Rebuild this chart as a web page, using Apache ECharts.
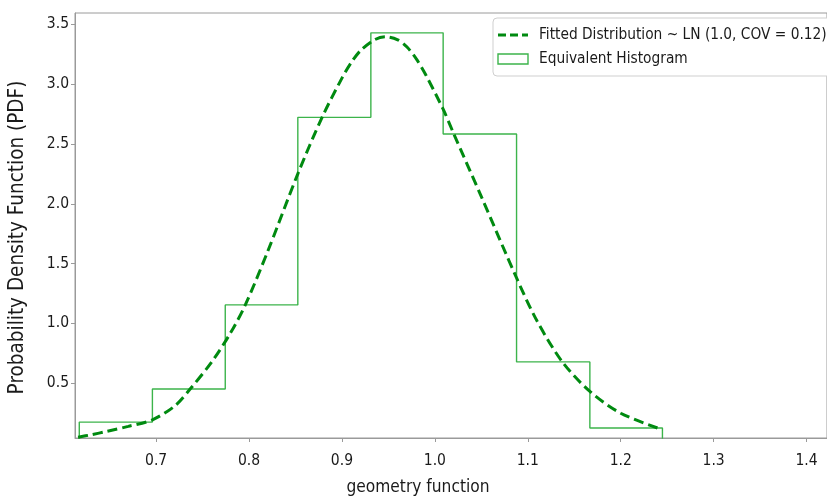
<!DOCTYPE html>
<html><head><meta charset="utf-8">
<script src="https://cdn.jsdelivr.net/npm/echarts@6/dist/echarts.min.js"></script>
<style>html,body{margin:0;padding:0;background:#fff}#c{width:827px;height:497px}</style>
</head><body><div id="c"></div>
<script>
// ---- data ----
const binEdges = [0.6173, 0.6960, 0.7744, 0.8525, 0.9311, 1.0089, 1.0879, 1.1668, 1.2449];
const binHeights = [0.176, 0.452, 1.155, 2.722, 3.428, 2.583, 0.679, 0.126];
const curveX = [0.616, 0.63, 0.647, 0.67, 0.696, 0.72, 0.7366, 0.76, 0.78, 0.796, 0.82, 0.8525, 0.8786, 0.90, 0.91, 0.92, 0.935, 0.9468, 0.96, 0.97, 0.98, 0.99, 1.0089, 1.0204, 1.05, 1.0879, 1.11, 1.1372, 1.1668, 1.20, 1.245];
const curveY = [0.05, 0.07, 0.098, 0.14, 0.195, 0.31, 0.452, 0.68, 0.92, 1.155, 1.6, 2.25, 2.722, 3.05, 3.18, 3.28, 3.37, 3.395, 3.37, 3.31, 3.21, 3.08, 2.79, 2.583, 2.06, 1.38, 1.02, 0.679, 0.432, 0.25, 0.112];
const curveName = 'Fitted Distribution ~ LN (1.0, COV = 0.12)';
const histName = 'Equivalent Histogram';
const xTitle = 'geometry function';
const yTitle = 'Probability Density Function (PDF)';

// ---- build series data ----
const histData = [[binEdges[0], 0]];
for (let i = 0; i < binHeights.length; i++) {
  histData.push([binEdges[i], binHeights[i]]);
  histData.push([binEdges[i + 1], binHeights[i]]);
}
histData.push([binEdges[binEdges.length - 1], 0]);
const curveData = curveX.map((x, i) => [x, curveY[i]]);

const FONT = '"DejaVu Sans Condensed", "DejaVu Sans", sans-serif';
const TXT = '#1a1a1a';
const AX = '#9a9a9a';
const HIST = '#3cb44b';
const CURVE = '#008a10';

const chart = echarts.init(document.getElementById('c'), null, {renderer: 'canvas'});
chart.setOption({
  animation: false,
  backgroundColor: '#fff',
  grid: {left: 75, right: 0, top: 13, bottom: 59, containLabel: false, outerBoundsMode: 'none',
    show: true, borderColor: AX, borderWidth: 1, backgroundColor: 'transparent'},
  xAxis: {
    type: 'value', min: 0.6127, max: 1.422, splitNumber: 8,
    name: xTitle, nameLocation: 'middle', nameGap: 41,
    nameTextStyle: {fontFamily: FONT, fontSize: 17.2, color: TXT, padding: [0, 66, 0, 0]},
    axisLine: {show: true, lineStyle: {color: AX, width: 1}},
    axisTick: {show: true, length: 4, lineStyle: {color: AX}},
    axisLabel: {fontFamily: FONT, fontSize: 15.5, color: TXT, margin: 15, showMinLabel: false, showMaxLabel: false,
      formatter: v => v.toFixed(1)},
    splitLine: {show: false}
  },
  yAxis: {
    type: 'value', min: 0.043, max: 3.594, splitNumber: 7,
    name: yTitle, nameLocation: 'middle', nameGap: 47,
    nameTextStyle: {fontFamily: FONT, fontSize: 20.5, color: TXT, padding: [0, 24, 0, 0]},
    axisLine: {show: true, lineStyle: {color: AX, width: 1}},
    axisTick: {show: true, length: 4, lineStyle: {color: AX}},
    axisLabel: {fontFamily: FONT, fontSize: 15.5, color: TXT, margin: 6, showMinLabel: false, showMaxLabel: false,
      formatter: v => v.toFixed(1)},
    splitLine: {show: false}
  },
  series: [
    {
      name: histName, type: 'line', data: histData, symbol: 'none', clip: true,
      lineStyle: {color: HIST, width: 1.4}, itemStyle: {color: HIST}, z: 2
    },
    {
      name: curveName, type: 'line', data: curveData, symbol: 'none', smooth: 0.3, clip: true,
      lineStyle: {color: CURVE, width: 3, type: [10, 5]}, itemStyle: {color: CURVE}, z: 3
    }
  ],
  graphic: [
    {type: 'rect', shape: {x: 493, y: 18, width: 400, height: 58, r: 4},
     style: {fill: '#fff', stroke: '#cfcfcf', lineWidth: 1}, z: 100},
    {type: 'line', shape: {x1: 498, y1: 35, x2: 528, y2: 35},
     style: {stroke: CURVE, lineWidth: 3, lineDash: [8, 4]}, z: 101},
    {type: 'rect', shape: {x: 498, y: 54, width: 30, height: 10},
     style: {fill: '#fff', stroke: HIST, lineWidth: 1.4}, z: 101},
    {type: 'text', x: 539, y: 35, z: 101,
     style: {text: curveName, font: '15.3px ' + FONT, fill: TXT, verticalAlign: 'middle', align: 'left'}},
    {type: 'text', x: 539, y: 59, z: 101,
     style: {text: histName, font: '15.3px ' + FONT, fill: TXT, verticalAlign: 'middle', align: 'left'}}
  ]
});
</script>
</body></html>
